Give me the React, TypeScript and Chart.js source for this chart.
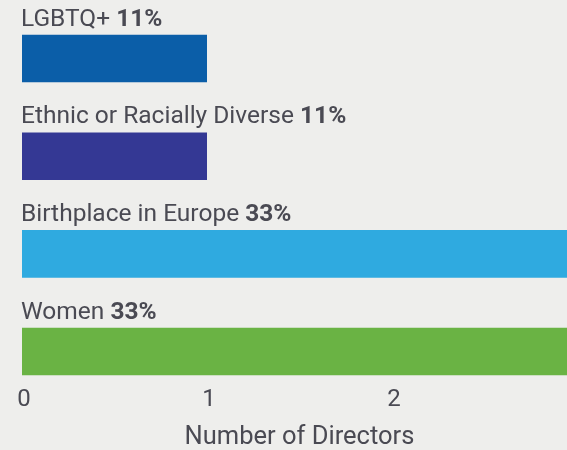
import React, { useEffect, useRef } from "react";
import { Chart, registerables } from "chart.js";

Chart.register(...registerables);

const categories = ["LGBTQ+", "Ethnic or Racially Diverse", "Birthplace in Europe", "Women"];
const directorCounts = [1, 1, 3, 3];
const percentLabels = ["11%", "11%", "33%", "33%"];
const barColors = ["#0b5ea8", "#343894", "#2faae0", "#6ab344"];
const axisTitle = "Number of Directors";

const FONT = "Roboto, 'Liberation Sans', sans-serif";
const TEXT_COLOR = "#4a4a53";

const barLabelPlugin = {
  id: "barLabels",
  afterDatasetsDraw(chart: any) {
    const ctx = chart.ctx;
    const meta = chart.getDatasetMeta(0);
    const x0 = chart.scales.x.getPixelForValue(0);
    ctx.save();
    ctx.textBaseline = "alphabetic";
    ctx.textAlign = "left";
    ctx.fillStyle = TEXT_COLOR;
    meta.data.forEach((el: any, i: number) => {
      const props = el.getProps(["y", "height"], true);
      const baseY = props.y - props.height / 2 - 9;
      const label = categories[i] + " ";
      ctx.font = `400 24.5px ${FONT}`;
      ctx.fillText(label, x0 - 1, baseY);
      const w = ctx.measureText(label).width;
      ctx.font = `700 24.5px ${FONT}`;
      ctx.fillText(percentLabels[i], x0 - 1 + w, baseY);
    });
    ctx.restore();
  },
};

export default function App() {
  const canvasRef = useRef<HTMLCanvasElement | null>(null);

  useEffect(() => {
    if (!canvasRef.current) return;
    const chart = new Chart(canvasRef.current, {
      type: "bar",
      data: {
        labels: categories,
        datasets: [
          {
            data: directorCounts,
            backgroundColor: barColors,
            borderWidth: 0,
            categoryPercentage: 1,
            barPercentage: 0.487,
            clip: false,
          },
        ],
      },
      options: {
        indexAxis: "y",
        animation: false,
        responsive: true,
        maintainAspectRatio: false,
        layout: { padding: { left: 22, right: 23, top: 58.6, bottom: 0 } },
        plugins: {
          legend: { display: false },
          tooltip: { enabled: false },
        },
        scales: {
          y: {
            display: false,
            offset: false,
          },
          x: {
            min: 0,
            max: 3,
            grid: { display: false, drawTicks: false },
            border: { display: false },
            ticks: {
              stepSize: 1,
              color: TEXT_COLOR,
              padding: 0,
              labelOffset: 2,
              font: { family: FONT, size: 24, lineHeight: 97 / 24 },
            },
            title: {
              display: true,
              text: axisTitle,
              color: TEXT_COLOR,
              font: { family: FONT, size: 25.5, lineHeight: 1.2 },
              padding: { top: -26.6, bottom: -2.5 },
            },
          },
        },
      },
      plugins: [barLabelPlugin],
    });
    return () => chart.destroy();
  }, []);

  return (
    <div
      style={{
        position: "absolute",
        left: 0,
        top: 0,
        width: 567,
        height: 450,
        overflow: "hidden",
        background: "#eeeeec",
      }}
    >
      <div style={{ position: "relative", width: 600, height: 450 }}>
        <canvas ref={canvasRef} />
      </div>
    </div>
  );
}
